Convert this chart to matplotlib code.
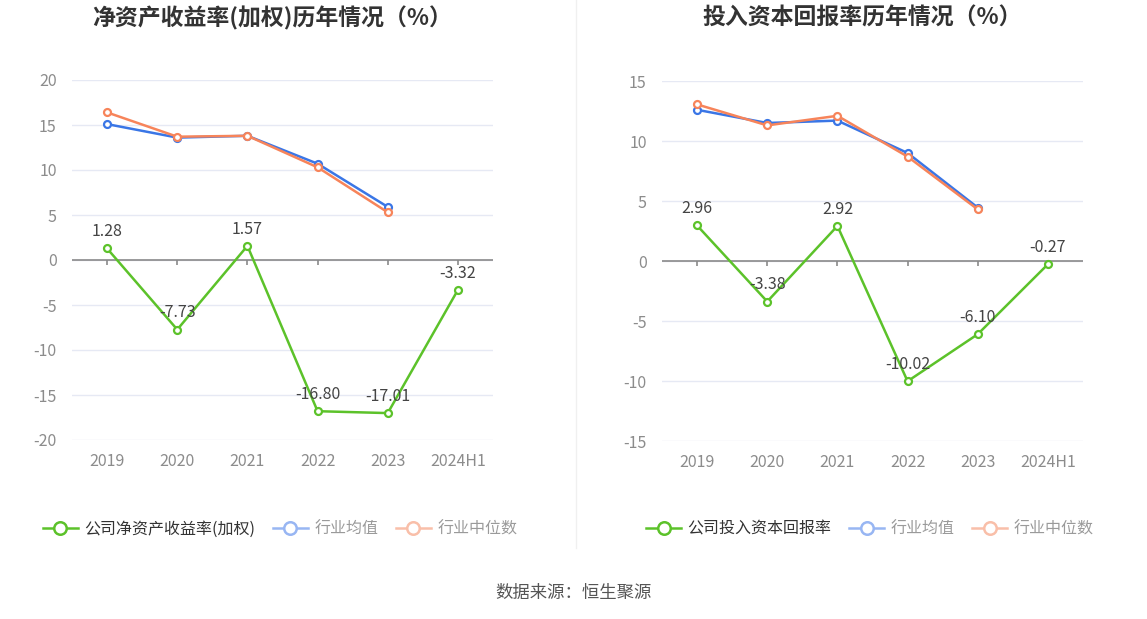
import matplotlib
matplotlib.use('Agg')
import matplotlib.pyplot as plt
from matplotlib.lines import Line2D

plt.rcParams['font.family'] = ['Noto Sans CJK SC', 'DejaVu Sans']

years = ['2019', '2020', '2021', '2022', '2023', '2024H1']

# left: ROE (weighted)
roe_company = [1.28, -7.73, 1.57, -16.80, -17.01, -3.32]
roe_mean = [15.1, 13.6, 13.8, 10.7, 5.9]
roe_median = [16.4, 13.7, 13.8, 10.3, 5.3]

# right: ROIC
roic_company = [2.96, -3.38, 2.92, -10.02, -6.10, -0.27]
roic_mean = [12.6, 11.5, 11.7, 9.0, 4.45]
roic_median = [13.05, 11.3, 12.1, 8.7, 4.3]

GREEN = '#5cc22a'
BLUE = '#3a76e6'
ORANGE = '#f7845a'

W, H = 1147, 619
fig = plt.figure(figsize=(W / 100, H / 100), dpi=100)


def px_axes(x0, y0, x1, y1):
    # pixel box (top-left origin) -> figure fraction
    return fig.add_axes([x0 / W, 1 - y1 / H, (x1 - x0) / W, (y1 - y0) / H])


def draw(ax, company, mean, median, ylim, yticks, title, title_cx, comp_label, leg_cx):
    x = list(range(len(years)))
    ax.set_xlim(-0.5, len(years) - 0.5)
    ax.set_ylim(*ylim)
    for s in ax.spines.values():
        s.set_visible(False)
    ax.set_yticks(yticks)
    ax.set_yticklabels([str(t) for t in yticks])
    ax.tick_params(axis='y', length=0, pad=11, labelsize=11.5, labelcolor='#8c8c8c')
    for t in yticks:
        ax.axhline(t, color='#e6e9f4', lw=1, zorder=0)
    # zero axis with ticks
    ax.axhline(0, color='#8a8a8a', lw=1.2, zorder=1)
    ax.set_xticks([])
    ax.vlines(x, 0, -(ylim[1] - ylim[0]) * 0.014, color='#8a8a8a', lw=1.2, zorder=1)
    for xi, lab in zip(x, years):
        ax.text(xi, -0.035, lab, transform=ax.get_xaxis_transform(),
                ha='center', va='top', fontsize=11.5, color='#8c8c8c')

    ax.plot(x[:len(mean)], mean, color=BLUE, lw=1.8, marker='o', ms=5,
            mfc='white', mec=BLUE, mew=1.6, zorder=3)
    ax.plot(x[:len(median)], median, color=ORANGE, lw=1.8, marker='o', ms=5,
            mfc='white', mec=ORANGE, mew=1.6, zorder=4)
    ax.plot(x, company, color=GREEN, lw=1.8, marker='o', ms=5,
            mfc='white', mec=GREEN, mew=1.6, zorder=5)
    for xi, v in zip(x, company):
        ax.annotate(f'{v:.2f}', (xi, v), xytext=(0, 6), textcoords='offset points',
                    ha='center', va='bottom', fontsize=11.5, color='#444444', zorder=6)

    fig.text(title_cx / W, 1 - 18 / H, title, ha='center', va='center',
             fontsize=16.5, fontweight='bold', color='#333333')

    handles = [
        Line2D([], [], color=GREEN, lw=1.8, marker='o', ms=9, mfc='white', mec=GREEN, mew=1.8),
        Line2D([], [], color='#98b6f3', lw=1.8, marker='o', ms=9, mfc='white', mec='#98b6f3', mew=1.8),
        Line2D([], [], color='#f9bfa9', lw=1.8, marker='o', ms=9, mfc='white', mec='#f9bfa9', mew=1.8),
    ]
    leg = fig.legend(handles, [comp_label, '行业均值', '行业中位数'],
                     loc='center', bbox_to_anchor=(leg_cx / W, 1 - 529 / H),
                     ncol=3, frameon=False, fontsize=11.5, handlelength=2.2,
                     handletextpad=0.4, columnspacing=1.1)
    cols = ['#333333', '#9a9a9a', '#9a9a9a']
    for t, c in zip(leg.get_texts(), cols):
        t.set_color(c)


ax1 = px_axes(72, 80, 493, 440)
draw(ax1, roe_company, roe_mean, roe_median, (-20, 20), [-20, -15, -10, -5, 0, 5, 10, 15, 20],
     '净资产收益率(加权)历年情况（%）', 272, '公司净资产收益率(加权)', 280)

ax2 = px_axes(662, 81, 1083, 441)
draw(ax2, roic_company, roic_mean, roic_median, (-15, 15), [-15, -10, -5, 0, 5, 10, 15],
     '投入资本回报率历年情况（%）', 862, '公司投入资本回报率', 870)

# divider
fig.add_artist(Line2D([576 / W, 576 / W], [1 - 0 / H, 1 - 548 / H], color='#f0f0f0', lw=1))

fig.text(573 / W, 1 - 593 / H, '数据来源：恒生聚源', ha='center', va='center',
         fontsize=12.5, color='#555555')

fig.savefig('out.png', dpi=100, facecolor='white')
